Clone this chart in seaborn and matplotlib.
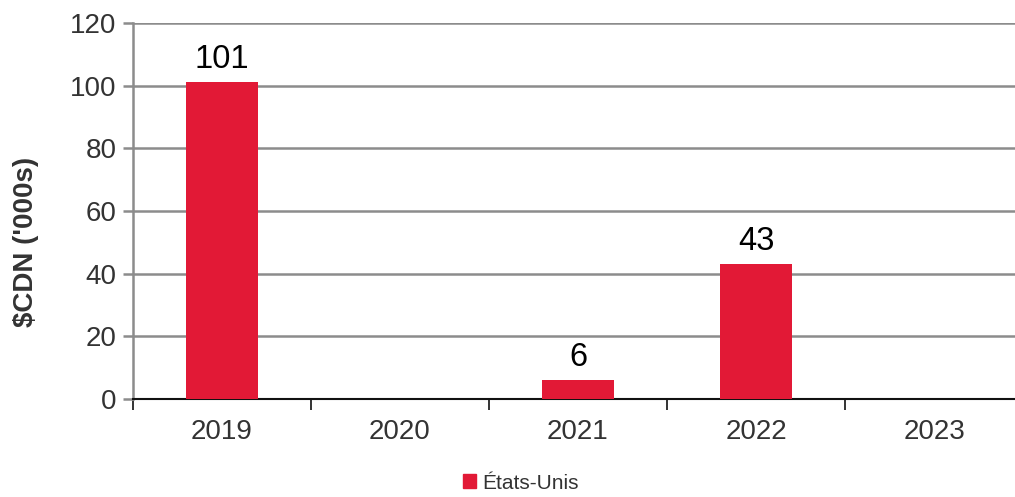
import matplotlib
matplotlib.use("Agg")
import matplotlib.pyplot as plt
import seaborn as sns
import pandas as pd

# data
years = ["2019", "2020", "2021", "2022", "2023"]
values = [101, 0, 6, 43, 0]
series_name = "États-Unis"

df = pd.DataFrame({"year": years, "value": values, "serie": series_name})

sns.set_style("white")
plt.rcParams['font.family'] = ['Liberation Sans', 'DejaVu Sans']

red = "#E21936"
grid_col = "#8c8c8c"

fig = plt.figure(figsize=(10.15, 4.97), dpi=100)
ax = fig.add_axes([0.131, 0.197, 0.869, 0.757])

sns.barplot(data=df, x="year", y="value", hue="serie", palette=[red],
            width=0.4, saturation=1, linewidth=0, ax=ax, legend=False,
            zorder=3)

ax.set_ylim(0, 120)
ax.set_yticks(range(0, 121, 20))
ax.set_xlim(-0.5, 4.455)
ax.yaxis.grid(True, color=grid_col, linewidth=1.8, zorder=0)
ax.set_axisbelow(True)

# value labels, skip the zero bars
for cont in ax.containers:
    labs = [str(v) if v > 0 else "" for v in values]
    ax.bar_label(cont, labels=labs, fontsize=23.5, padding=5, color="black")

for s in ["top", "right"]:
    ax.spines[s].set_visible(False)
ax.spines["left"].set_color(grid_col)
ax.spines["left"].set_linewidth(1.8)
ax.spines["bottom"].set_color("#111111")
ax.spines["bottom"].set_linewidth(1.5)

ax.tick_params(axis="y", which="major", length=7, width=1.8, color=grid_col,
               labelsize=20, labelcolor="#333333", pad=5, left=True)
ax.tick_params(axis="x", which="major", length=0, labelsize=20,
               labelcolor="#333333", pad=14)
# ticks between categories
ax.set_xticks([i + 0.5 for i in range(-1, 4)], minor=True)
ax.tick_params(axis="x", which="minor", length=8, width=1.2, color="#111111",
               bottom=True)

ax.set_xlabel("")
ax.set_ylabel("$CDN ('000s)", fontsize=20, fontweight="bold", color="#333333")
ax.yaxis.set_label_coords(-0.106, 0.418)

handle = plt.Rectangle((0, 0), 1, 1, color=red)
fig.legend([handle], [series_name], loc="center", bbox_to_anchor=(0.513, 0.028),
           frameon=False, fontsize=15, handlelength=0.65, handleheight=0.65,
           handletextpad=0.3, labelcolor="#333333")

fig.savefig("out.png", dpi=100)
